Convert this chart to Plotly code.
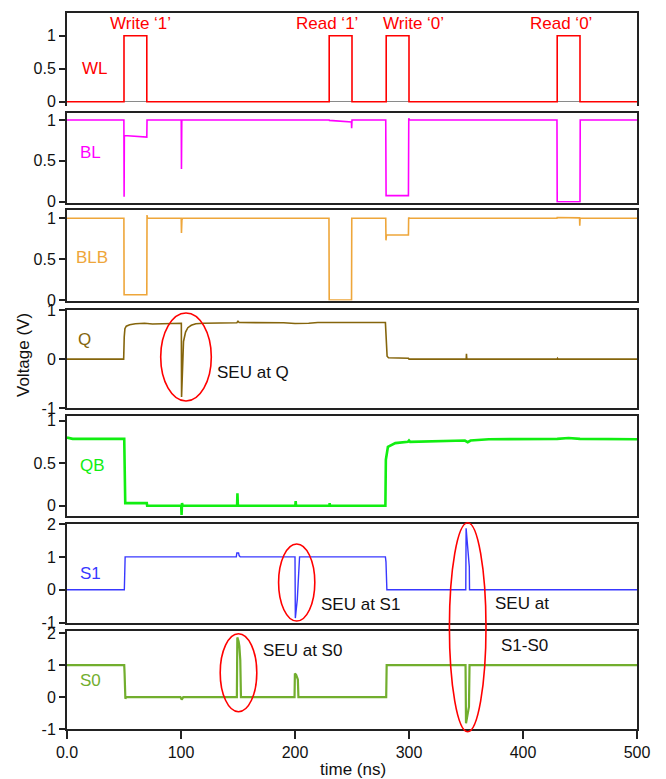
import plotly.graph_objects as go

# ---------------- data (time in ns, voltage in V) ----------------
time_wl = [0, 50, 50, 70, 70, 230, 230, 250, 250, 280, 280, 300, 300, 430, 430, 450, 450, 500]
wl = [0, 0, 1, 1, 0, 0, 1, 1, 0, 0, 1, 1, 0, 0, 1, 1, 0, 0]

time_bl = [0, 49.9, 50.1, 50.3, 70.0, 70.2, 100.2, 100.4, 100.7, 230, 230.2, 249.5, 249.7, 250.0,
           279.6, 279.9, 299.5, 299.8, 300.3, 429.8, 430.0, 450.0, 450.2, 500]
bl = [1, 1, 0.06, 0.81, 0.79, 1.0, 1.0, 0.40, 1.0, 1.0, 0.995, 0.976, 0.90, 1.0,
      1.0, 0.075, 0.075, 1.02, 1.0, 1.0, 0.0, 0.0, 1.0, 1.0]

time_blb = [0, 49.9, 50.1, 70.0, 70.2, 70.6, 100.2, 100.4, 100.8, 101.5, 229.8, 230.0, 249.6, 249.8,
            279.6, 279.8, 280.2, 299.5, 299.7, 300.3, 429.8, 430.0, 449.6, 449.8, 450.1, 500]
blb = [1, 1, 0.065, 0.065, 1.04, 1.0, 1.0, 0.82, 0.98, 1.0, 1.0, 0.0, 0.0, 1.0,
       1.0, 0.73, 0.795, 0.795, 1.01, 1.0, 1.0, 1.01, 1.005, 0.91, 1.0, 1.0]

time_q = [0, 49.7, 50.2, 50.8, 52, 55, 60, 68, 75, 85, 95, 100.3, 100.5, 101.4, 102.2, 104, 106, 109,
          113, 120, 149, 150, 151, 190, 200, 212, 220, 279.3, 280, 280.8, 282, 299.5, 300,
          350.2, 350.4, 350.7, 430, 430.3, 430.8, 500]
q = [0, 0, 0.45, 0.62, 0.67, 0.70, 0.72, 0.73, 0.715, 0.72, 0.73, 0.73, -0.77, 0.0, 0.36, 0.55, 0.64, 0.69,
     0.72, 0.73, 0.74, 0.77, 0.745, 0.74, 0.725, 0.73, 0.745, 0.745, 0.30, 0.06, 0.03, 0.02, 0.0,
     0.0, 0.11, 0.0, 0.0, 0.015, 0.0, 0.0]

time_qb = [0, 5, 50.2, 50.6, 51.1, 70, 70.3, 100.2, 100.5, 100.9, 101.4, 149.2, 149.5, 149.9,
           200.3, 200.6, 200.9, 230.2, 230.4, 230.7, 279.3, 279.7, 281.5, 288, 299, 300, 301,
           333, 349, 351.5, 354, 370, 430, 440, 450, 500]
qb = [0.80, 0.785, 0.785, 0.40, 0.03, 0.03, 0.0, 0.0, -0.11, 0.03, 0.0, 0.0, 0.146, 0.0,
      0.0, 0.055, 0.0, 0.0, 0.03, 0.0, 0.0, 0.54, 0.69, 0.735, 0.75, 0.765, 0.75,
      0.765, 0.765, 0.745, 0.765, 0.78, 0.785, 0.795, 0.785, 0.78]

time_s1 = [0, 50.3, 51, 148.5, 149, 150.5, 151, 152, 200.0, 200.3, 202, 203.5, 204, 279.3, 279.8,
           280.6, 349.8, 350.1, 351.2, 352.4, 352.9, 353.1, 500]
s1 = [0, 0, 1, 1, 1.12, 1.12, 1.04, 1.0, 1.0, -0.86, -0.3, 0.5, 1.0, 1.0, 0.85,
      0.0, 0.0, 1.87, 1.36, 0.9, 0.7, 0.0, 0.0]

time_s0 = [0, 50.2, 50.5, 51.2, 52, 99.5, 100.6, 102, 149.0, 149.4, 150.5, 151.2, 152, 152.6,
           199.6, 199.9, 201, 202.5, 203, 280, 280.4, 349.6, 350.0, 351.1, 352.6, 353.1, 500]
s0 = [1, 1, 0.76, -0.05, 0.0, 0.0, -0.08, 0.0, 0.0, 1.87, 1.75, 1.6, 1.16, 0.0,
      0.0, 0.74, 0.70, 0.55, 0.0, 0.0, 1.0, 1.0, -0.82, -0.6, -0.3, 1.0, 1.0]

x_ticks = [0, 100, 200, 300, 400, 500]
x_tick_labels = ["0.0", "100", "200", "300", "400", "500"]

signal_names = ["WL", "BL", "BLB", "Q", "QB", "S1", "S0"]
op_labels = ["Write \u20181\u2019", "Read \u20181\u2019", "Write \u20180\u2019", "Read \u20180\u2019"]

# ---------------- layout helpers ----------------
# The page body adds an 8px offset, so the figure is laid out 8px up/left.
W, H = 666, 779
BODY = 8
PLOT_L, PLOT_R, PLOT_T, PLOT_B = 67, 637, 13, 729          # plot area in window pixels
ML = PLOT_L - BODY
MT = PLOT_T - BODY
PW = PLOT_R - PLOT_L
PH = PLOT_B - PLOT_T
MR = W - ML - PW
MB = H - MT - PH


def px_x(px):
    return (px - PLOT_L) / PW


def px_y(py):
    return (PLOT_B - py) / PH


FONT = "Liberation Sans, Arial, Helvetica, sans-serif"
FRAME = "#222222"

panels = [
    dict(t=time_wl, v=wl, color="#ff0000", width=1.6, top=13, bot=106, rng=[-0.065, 1.344],
         tv=[0, 0.5, 1], tt=["0", "0.5", "1"], lab=(94.5, 68.3)),
    dict(t=time_bl, v=bl, color="#ff00ff", width=1.6, top=112.7, bot=202.7, rng=[-0.012, 1.089],
         tv=[0, 0.5, 1], tt=["0", "0.5", "1"], lab=(90, 153)),
    dict(t=time_blb, v=blb, color="#eea63a", width=1.6, top=210, bot=300.5, rng=[-0.006, 1.101],
         tv=[0, 0.5, 1], tt=["0", "0.5", "1"], lab=(92, 257)),
    dict(t=time_q, v=q, color="#85650c", width=1.6, top=310, bot=408.3, rng=[-1, 1],
         tv=[-1, 0, 1], tt=["-1", "0", "1"], lab=(84.5, 339)),
    dict(t=time_qb, v=qb, color="#11ee11", width=2.6, top=415.5, bot=516, rng=[-0.121, 1.059],
         tv=[0, 0.5, 1], tt=["0", "0.5", "1"], lab=(92.5, 465)),
    dict(t=time_s1, v=s1, color="#3838ff", width=1.4, top=524, bot=622.7, rng=[-1, 2],
         tv=[-1, 0, 1, 2], tt=["-1", "0", "1", "2"], lab=(90, 573)),
    dict(t=time_s0, v=s0, color="#72ae2e", width=2.2, top=630.7, bot=729, rng=[-1, 2.08],
         tv=[-1, 0, 1, 2], tt=["-1", "0", "1", "2"], lab=(90, 680)),
]

fig = go.Figure()
layout = dict(
    width=W, height=H,
    margin=dict(l=ML, r=MR, t=MT, b=MB, autoexpand=False),
    paper_bgcolor="white", plot_bgcolor="white",
    showlegend=False,
    font=dict(family=FONT, size=16, color="#111111"),
)
annotations = []

for i, p in enumerate(panels):
    n = i + 1
    sfx = "" if n == 1 else str(n)
    fig.add_trace(go.Scatter(
        x=p["t"], y=p["v"], mode="lines", name=signal_names[i],
        line=dict(color=p["color"], width=p["width"]),
        xaxis="x" + sfx, yaxis="y" + sfx, hoverinfo="skip",
    ))
    last = (n == len(panels))
    first = (n == 1)
    xa = dict(
        domain=[0, 1], range=[0, 500], anchor="y" + sfx, automargin=False,
        showgrid=False, zeroline=False,
        showline=True, linecolor=FRAME, linewidth=2,
        mirror=(not first),
        side="top" if first else "bottom",
        ticks="outside" if last else "",
        ticklen=8, tickwidth=1.5, tickcolor=FRAME,
        showticklabels=last,
        tickmode="array", tickvals=x_ticks, ticktext=x_tick_labels,
        tickfont=dict(size=16, family=FONT, color="#111111"),
    )
    if n > 1:
        xa["matches"] = "x"
    ya = dict(
        domain=[px_y(p["bot"]), px_y(p["top"])], range=p["rng"], anchor="x" + sfx,
        automargin=False, showgrid=False,
        zeroline=first, zerolinecolor="#8a8a8a", zerolinewidth=1,
        showline=True, linecolor=FRAME, linewidth=2, mirror=True,
        ticks="outside", ticklen=6, tickwidth=1.5, tickcolor=FRAME,
        tickmode="array", tickvals=p["tv"], ticktext=p["tt"],
        tickfont=dict(size=16, family=FONT, color="#111111"),
        fixedrange=True,
    )
    layout["xaxis" + sfx] = xa
    layout["yaxis" + sfx] = ya
    lx, ly = p["lab"]
    annotations.append(dict(
        text=signal_names[i], x=px_x(lx), y=px_y(ly), xref="paper", yref="paper",
        xanchor="center", yanchor="middle", showarrow=False,
        font=dict(size=17, family=FONT, color=p["color"]),
    ))

# operation labels above the word-line pulses
for txt, cx in zip(op_labels, [140, 327, 413.7, 560.5]):
    annotations.append(dict(
        text=txt, x=px_x(cx), y=px_y(23), xref="paper", yref="paper",
        xanchor="center", yanchor="middle", showarrow=False,
        font=dict(size=17, family=FONT, color="#ff0000"),
    ))

# SEU notes
for txt, cx, cy in [("SEU at Q", 253, 372.7), ("SEU at S1", 360, 604.3),
                    ("SEU at", 521.7, 603.3), ("S1-S0", 524, 645),
                    ("SEU at S0", 302.5, 650.7)]:
    annotations.append(dict(
        text=txt, x=px_x(cx), y=px_y(cy), xref="paper", yref="paper",
        xanchor="center", yanchor="middle", showarrow=False,
        font=dict(size=17, family=FONT, color="#111111"),
    ))

# axis titles
annotations.append(dict(
    text="Voltage (V)", x=px_x(23), y=px_y(355), xref="paper", yref="paper",
    xanchor="center", yanchor="middle", showarrow=False, textangle=-90,
    font=dict(size=17, family=FONT, color="#111111"),
))
annotations.append(dict(
    text="time (ns)", x=px_x(353), y=px_y(769), xref="paper", yref="paper",
    xanchor="center", yanchor="middle", showarrow=False,
    font=dict(size=17, family=FONT, color="#111111"),
))

# red ellipses marking SEU events (pixel centre, half-width, half-height)
shapes = []
for cx, cy, rx, ry in [(186, 357, 25.3, 44), (296.7, 582.5, 18.1, 38.5),
                       (238.5, 672.7, 18.3, 39), (467.7, 627.2, 18.3, 104.5)]:
    shapes.append(dict(
        type="circle", xref="paper", yref="paper",
        x0=px_x(cx - rx), x1=px_x(cx + rx), y0=px_y(cy + ry), y1=px_y(cy - ry),
        line=dict(color="#ff0000", width=1.6), fillcolor="rgba(0,0,0,0)", layer="above",
    ))

layout["annotations"] = annotations
layout["shapes"] = shapes
fig.update_layout(**layout)

fig.write_html("out.html")
